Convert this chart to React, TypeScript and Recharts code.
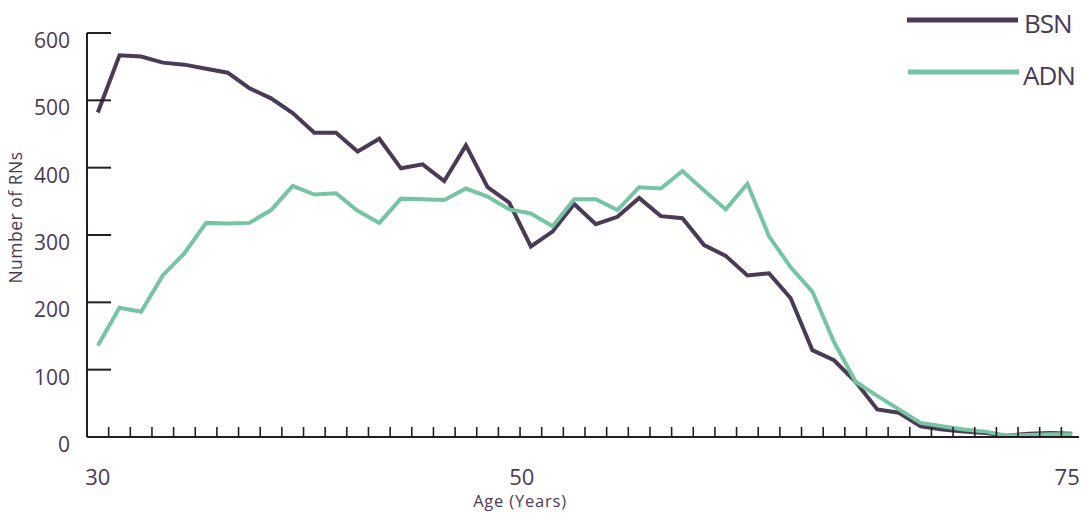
import React from 'react';
import { LineChart, Line, XAxis, YAxis, Legend } from 'recharts';

const ages = [30,31,32,33,34,35,36,37,38,39,40,41,42,43,44,45,46,47,48,49,50,51,52,53,54,55,56,57,58,59,60,61,62,63,64,65,66,67,68,69,70,71,72,73,74,75];
const bsn = [482,567,565,556,553,547,541,518,503,481,452,452,424,443,399,405,380,433,371,348,283,305,346,316,327,355,328,325,285,269,240,243,206,129,114,82,41,36,16,11,8,6,2,5,6,5];
const adn = [136,192,186,240,273,318,317,318,337,373,360,362,336,318,354,353,352,369,357,338,332,313,353,353,337,371,369,395,366,338,376,298,252,216,141,82,61,41,21,16,11,8,2,3,4,4];
const yTicks = [0,100,200,300,400,500,600];
const xLabels = [30,50,75];
const xBoundaries = [29.5,30.5,31.5,32.5,33.5,34.5,35.5,36.5,37.5,38.5,39.5,40.5,41.5,42.5,43.5,44.5,45.5,46.5,47.5,48.5,49.5,50.5,51.5,52.5,53.5,54.5,55.5,56.5,57.5,58.5,59.5,60.5,61.5,62.5,63.5,64.5,65.5,66.5,67.5,68.5,69.5,70.5,71.5,72.5,73.5,74.5,75.5];

const data = ages.map((a, i) => ({ age: a, BSN: bsn[i], ADN: adn[i] }));

const TEXT = '#4a3b55';
const AXIS = '#231f20';
const BSN_C = '#4b3a56';
const ADN_C = '#76c4a3';
const FONT = '"Open Sans", sans-serif';
const labelShift: Record<number, number> = { 30: 0, 50: -9, 75: -5 };

const YTick = (props: any) => {
  const { x, y, payload } = props;
  return (
    <g>
      {payload.value !== 0 && (
        <line x1={x} y1={y} x2={x + 24} y2={y} stroke={AXIS} strokeWidth={2} />
      )}
      <text x={x - 17} y={y + 15} textAnchor="end" fill={TEXT} fontSize={21} fontFamily={FONT}>
        {payload.value}
      </text>
    </g>
  );
};

const XTick = (props: any) => {
  const { x, y, payload } = props;
  const v = payload.value;
  if (v % 1 !== 0) {
    return <line x1={x} y1={y} x2={x} y2={y - 10} stroke={AXIS} strokeWidth={1.6} />;
  }
  if (!xLabels.includes(v)) return null;
  return (
    <text x={x + (labelShift[v] || 0)} y={y + 48} textAnchor="middle" fill={TEXT} fontSize={22} fontFamily={FONT}>
      {v}
    </text>
  );
};

const LegendContent = () => (
  <svg width={200} height={90} style={{ display: 'block', overflow: 'visible' }}>
    <line x1={20} y1={12} x2={131} y2={12} stroke={BSN_C} strokeWidth={5} />
    <text x={137} y={25} fill={TEXT} fontSize={26} letterSpacing={-1} fontFamily={FONT}>BSN</text>
    <line x1={21} y1={64} x2={132} y2={64} stroke={ADN_C} strokeWidth={5} />
    <text x={136} y={77} fill={TEXT} fontSize={26} letterSpacing={-1} fontFamily={FONT}>ADN</text>
  </svg>
);

const allXTicks = [...xBoundaries, ...xLabels].sort((a, b) => a - b);

export default function App() {
  return (
    <div style={{ width: 1087, height: 520, margin: -8 }}>
      <LineChart width={1087} height={520} data={data} margin={{ top: 33, right: 4, bottom: 0, left: 0 }}>
        <XAxis
          dataKey="age"
          type="number"
          domain={[29.5, 75.5]}
          ticks={allXTicks}
          interval={0}
          tick={<XTick />}
          tickLine={false}
          tickSize={0}
          tickMargin={0}
          height={83}
          axisLine={{ stroke: AXIS, strokeWidth: 2 }}
          label={() => (
            <text x={520} y={507} textAnchor="middle" fill={TEXT} fontSize={16.5} letterSpacing={0.8} fontFamily={FONT}>
              Age (Years)
            </text>
          )}
        />
        <YAxis
          type="number"
          domain={[0, 600]}
          ticks={yTicks}
          interval={0}
          tick={<YTick />}
          tickLine={false}
          tickSize={0}
          tickMargin={0}
          width={87}
          axisLine={{ stroke: AXIS, strokeWidth: 2 }}
          label={() => (
            <text x={21.5} y={217.5} transform="rotate(-90 21.5 217.5)" textAnchor="middle" fill={TEXT} fontSize={17.5} letterSpacing={0.5} fontFamily={FONT}>
              Number of RNs
            </text>
          )}
        />
        <Legend
          verticalAlign="middle"
          layout="horizontal"
          align="center"
          content={<LegendContent />}
          wrapperStyle={{ top: 8, left: 887, width: 200, height: 90 }}
        />
        <Line type="linear" dataKey="BSN" stroke={BSN_C} strokeWidth={4} dot={false} isAnimationActive={false} />
        <Line type="linear" dataKey="ADN" stroke={ADN_C} strokeWidth={4} dot={false} isAnimationActive={false} />
      </LineChart>
    </div>
  );
}
